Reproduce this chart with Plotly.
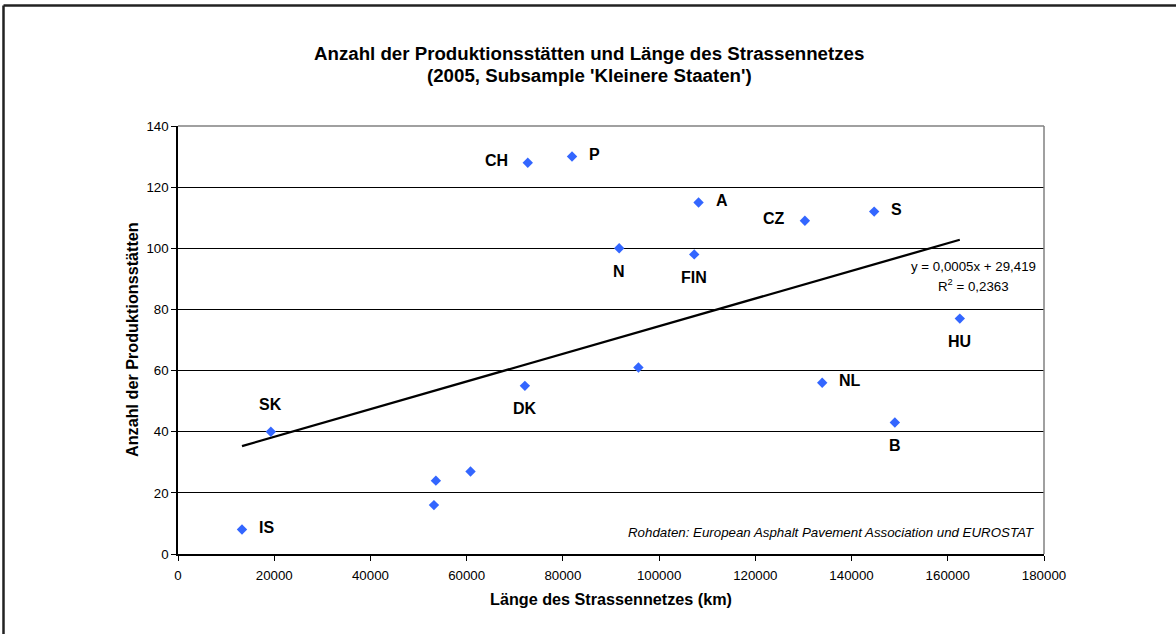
import numpy as np
import plotly.graph_objects as go

# ---- data ----
countries = ["IS", "SK", "", "", "", "DK", "CH", "P", "N", "", "FIN", "A", "CZ", "NL", "S", "B", "HU"]
strassen_km = [13300, 19300, 53200, 53600, 60800, 72100, 72700, 81900, 91700, 95700,
               107300, 108200, 130300, 133900, 144700, 149000, 162500]
produktionsstaetten = [8, 40, 16, 24, 27, 55, 128, 130, 100, 61, 98, 115, 109, 56, 112, 43, 77]
label_side = ["right", "above", "", "", "", "below", "left", "right", "below", "",
              "below", "right", "left", "right", "right", "below", "below"]

x_ticks = [0, 20000, 40000, 60000, 80000, 100000, 120000, 140000, 160000, 180000]
y_ticks = [0, 20, 40, 60, 80, 100, 120, 140]

title_line1 = "Anzahl der Produktionsstätten und Länge des Strassennetzes"
title_line2 = "(2005, Subsample 'Kleinere Staaten')"
x_title = "Länge des Strassennetzes (km)"
y_title = "Anzahl der Produktionsstätten"
eq_line1 = "y = 0,0005x + 29,419"
eq_line2 = "R<sup>2</sup> = 0,2363"
source_note = "Rohdaten: European Asphalt Pavement Association und EUROSTAT"

FONT = "Liberation Sans, Arial, sans-serif"
W, H = 1176, 634
ML, MR, MT, MB = 178, 132, 126, 80
PW, PH = W - ML - MR, H - MT - MB


def px_to_paper_x(px):
    return (px - ML) / PW


def px_to_paper_y(py):
    return (H - MB - py) / PH


# linear trendline (least squares) over the data range
xs = np.array(strassen_km, dtype=float)
ys = np.array(produktionsstaetten, dtype=float)
slope, intercept = np.polyfit(xs, ys, 1)
tx = np.array([xs.min(), xs.max()])
ty = slope * tx + intercept

fig = go.Figure()
fig.add_trace(go.Scatter(x=tx, y=ty, mode="lines",
                         line=dict(color="black", width=2.3),
                         hoverinfo="skip", showlegend=False))
fig.add_trace(go.Scatter(x=strassen_km, y=produktionsstaetten, mode="markers",
                         marker=dict(symbol="diamond", size=8, color="#3366FF",
                                     line=dict(width=0)),
                         showlegend=False))

offsets = {
    "right": dict(xanchor="left", yanchor="middle", xshift=15, yshift=2),
    "left": dict(xanchor="right", yanchor="middle", xshift=-18, yshift=2),
    "below": dict(xanchor="center", yanchor="middle", xshift=0, yshift=-23),
    "above": dict(xanchor="center", yanchor="middle", xshift=0, yshift=27),
}
annotations = []
for c, xv, yv, side in zip(countries, strassen_km, produktionsstaetten, label_side):
    if not c:
        continue
    annotations.append(dict(x=xv, y=yv, xref="x", yref="y", text=c, showarrow=False,
                            font=dict(family=FONT, size=16, color="black", weight="bold"),
                            **offsets[side]))

# title
annotations.append(dict(x=px_to_paper_x(589), y=px_to_paper_y(54), xref="paper", yref="paper",
                        text=title_line1, showarrow=False, xanchor="center", yanchor="middle",
                        font=dict(family=FONT, size=18.7, color="black", weight="bold")))
annotations.append(dict(x=px_to_paper_x(589), y=px_to_paper_y(75), xref="paper", yref="paper",
                        text=title_line2, showarrow=False, xanchor="center", yanchor="middle",
                        font=dict(family=FONT, size=18.7, color="black", weight="bold")))
# axis titles
annotations.append(dict(x=0.5, y=px_to_paper_y(599), xref="paper", yref="paper",
                        text=x_title, showarrow=False, xanchor="center", yanchor="middle",
                        font=dict(family=FONT, size=16.2, color="black", weight="bold")))
annotations.append(dict(x=px_to_paper_x(132), y=0.5, xref="paper", yref="paper",
                        text=y_title, showarrow=False, xanchor="center", yanchor="middle",
                        textangle=-90,
                        font=dict(family=FONT, size=16.2, color="black", weight="bold")))
# trendline equation
annotations.append(dict(x=px_to_paper_x(973), y=px_to_paper_y(266), xref="paper", yref="paper",
                        text=eq_line1, showarrow=False, xanchor="center", yanchor="middle",
                        font=dict(family=FONT, size=13.3, color="black")))
annotations.append(dict(x=px_to_paper_x(973), y=px_to_paper_y(285), xref="paper", yref="paper",
                        text=eq_line2, showarrow=False, xanchor="center", yanchor="middle",
                        font=dict(family=FONT, size=13.3, color="black")))
# source note
annotations.append(dict(x=px_to_paper_x(1036), y=px_to_paper_y(532), xref="paper", yref="paper",
                        text=source_note, showarrow=False, xanchor="right", yanchor="middle",
                        font=dict(family=FONT, size=13.3, color="black", style="italic")))

shapes = [
    # plot-area border (top/right, grey)
    dict(type="line", xref="paper", yref="paper", x0=0, x1=1, y0=1, y1=1,
         line=dict(color="#808080", width=1.5), layer="above"),
    dict(type="line", xref="paper", yref="paper", x0=1, x1=1, y0=0, y1=1,
         line=dict(color="#808080", width=1.5), layer="above"),
    # outer chart frame (top and left edges visible)
    dict(type="line", xref="paper", yref="paper",
         x0=px_to_paper_x(3.5), x1=px_to_paper_x(1180), y0=px_to_paper_y(5.5), y1=px_to_paper_y(5.5),
         line=dict(color="#222222", width=2.5), layer="above"),
    dict(type="line", xref="paper", yref="paper",
         x0=px_to_paper_x(3.5), x1=px_to_paper_x(3.5), y0=px_to_paper_y(5.5), y1=px_to_paper_y(640),
         line=dict(color="#222222", width=2.5), layer="above"),
]

fig.update_layout(
    width=W, height=H,
    margin=dict(l=ML, r=MR, t=MT, b=MB, autoexpand=False),
    paper_bgcolor="white", plot_bgcolor="white",
    font=dict(family=FONT, size=13.3, color="black"),
    annotations=annotations, shapes=shapes,
    showlegend=False,
)
fig.update_xaxes(range=[0, 180000], tickvals=x_ticks, ticktext=[str(v) for v in x_ticks],
                 showgrid=False, zeroline=False, showline=True, linecolor="black", linewidth=1.5,
                 ticks="outside", ticklen=5, tickcolor="black", tickwidth=1,
                 ticklabelstandoff=3,
                 tickfont=dict(family=FONT, size=13.3, color="black"))
fig.update_yaxes(range=[0, 140], tickvals=y_ticks, ticktext=[str(v) for v in y_ticks],
                 showgrid=True, gridcolor="black", gridwidth=1, zeroline=False,
                 showline=True, linecolor="black", linewidth=1.5,
                 ticks="outside", ticklen=5, tickcolor="black", tickwidth=1,
                 tickfont=dict(family=FONT, size=13.3, color="black"))

# remove the browser's default 8px body margin so the chart sits at the page origin
fig.write_html("out.html", config={"displayModeBar": False},
               post_script="document.body.style.margin='0';document.body.style.overflow='hidden';")
